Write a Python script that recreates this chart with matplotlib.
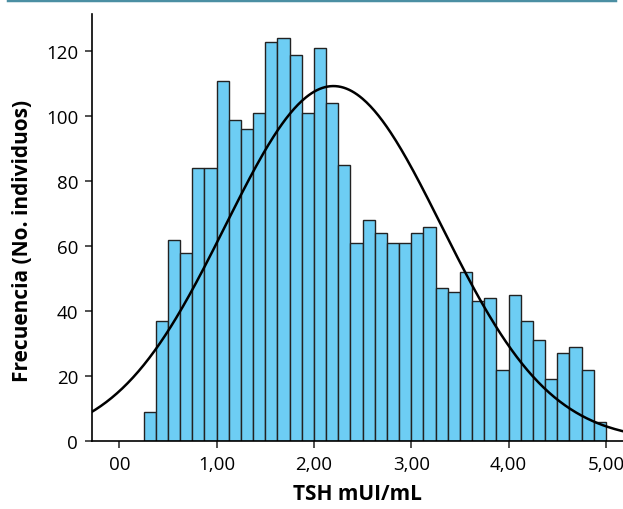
import numpy as np
import matplotlib.pyplot as plt
from matplotlib.lines import Line2D

# histogram counts, bins of 0.125 from 0.25 to 5.0
bin_start = 0.25
bin_width = 0.125
counts = [9, 37, 62, 58, 84, 84, 111, 99, 96, 101,
          123, 124, 119, 101, 121, 104, 85, 61, 68, 64,
          61, 61, 64, 66, 47, 46, 52, 43, 44, 22,
          45, 37, 31, 19, 27, 29, 22, 6]

# fitted normal
mu = 2.2
sigma = 1.11

xticks = [0, 1, 2, 3, 4, 5]
xticklabels = ['00', '1,00', '2,00', '3,00', '4,00', '5,00']
yticks = [0, 20, 40, 60, 80, 100, 120]

plt.rcParams['font.family'] = ['Open Sans', 'DejaVu Sans']

fig = plt.figure(figsize=(6.23, 5.10), dpi=100)
ax = fig.add_axes([0.1477, 0.1333, 0.8523, 0.8373])

edges = bin_start + bin_width*np.arange(len(counts))
ax.bar(edges, counts, width=bin_width, align='edge',
       color='#6dcdf4', edgecolor='#222222', linewidth=1.0, zorder=2)

N = sum(counts)
xs = np.linspace(-0.3, 5.2, 400)
ys = N*bin_width/(sigma*np.sqrt(2*np.pi))*np.exp(-(xs-mu)**2/(2*sigma**2))
ax.plot(xs, ys, color='black', lw=1.8, zorder=3)

ax.set_xlim(-0.28, 5.175)
ax.set_ylim(0, 131.5)
ax.set_xticks(xticks)
ax.set_xticklabels(xticklabels)
ax.set_yticks(yticks)
ax.tick_params(axis='both', labelsize=13.5, length=5, width=1.2, color='#333333', pad=5)
ax.spines['top'].set_visible(False)
ax.spines['right'].set_visible(False)
ax.spines['left'].set_linewidth(1.2)
ax.spines['bottom'].set_linewidth(1.2)

ax.set_xlabel('TSH mUI/mL', fontsize=15, fontweight='bold', labelpad=7)
ax.set_ylabel('Frecuencia (No. individuos)', fontsize=15, fontweight='bold')
ax.yaxis.set_label_coords(-0.112, 0.47)

# teal rule at the very top
fig.add_artist(Line2D([8/623, 615/623], [1-1/510, 1-1/510], color='#4b8fa3', lw=2.5,
                      transform=fig.transFigure))

fig.savefig('out.png', dpi=100)
